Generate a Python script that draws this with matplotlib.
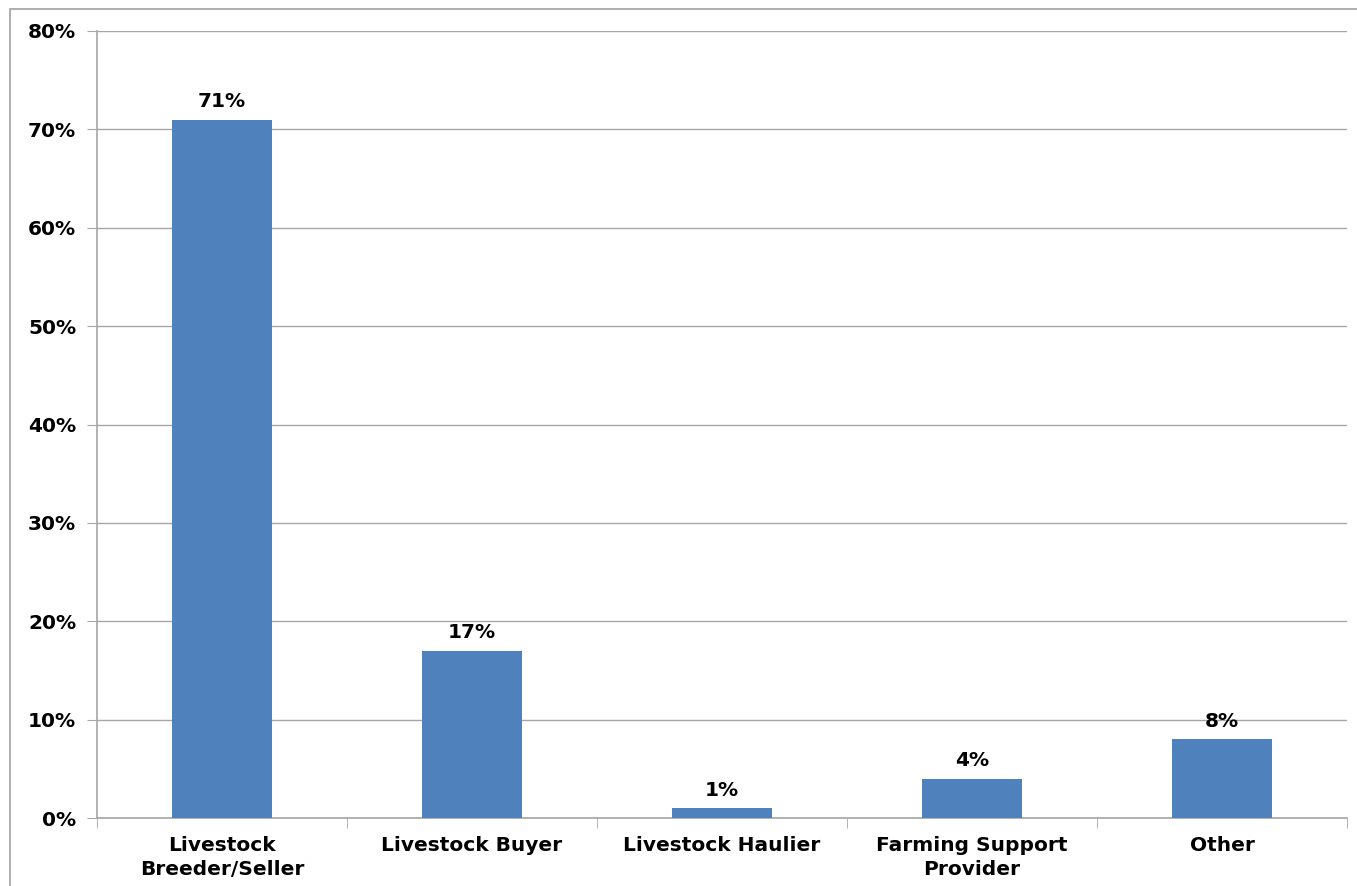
import matplotlib
matplotlib.use("Agg")
import matplotlib.pyplot as plt
import matplotlib.patches as patches
from matplotlib.ticker import FuncFormatter, MultipleLocator

# --- données ---
categories = ["Livestock\nBreeder/Seller", "Livestock Buyer", "Livestock Haulier",
              "Farming Support\nProvider", "Other"]
values = [71, 17, 1, 4, 8]

bar_color = "#4F81BD"
grid_color = "#A6A6A6"
fs = 14.5

plt.rcParams["font.family"] = ["Verdana", "DejaVu Sans"]
plt.rcParams["font.weight"] = "bold"

fig = plt.figure(figsize=(13.57, 8.86), dpi=100)
ax = fig.add_axes([97 / 1357, 68 / 886, 1250 / 1357, 787 / 886])

x = list(range(len(categories)))
ax.bar(x, values, width=0.4, color=bar_color, zorder=3)

for xi, v in zip(x, values):
    ax.annotate(f"{v}%", (xi, v), xytext=(0, 6), textcoords="offset points",
                ha="center", va="bottom", fontsize=fs, fontweight="bold", zorder=4)

ax.set_xlim(-0.5, len(categories) - 0.5)
ax.set_ylim(0, 80)
ax.yaxis.set_major_locator(MultipleLocator(10))
ax.yaxis.set_major_formatter(FuncFormatter(lambda v, p: f"{v:.0f}%"))
ax.grid(axis="y", color=grid_color, lw=1, zorder=0)

ax.set_xticks(x)
ax.set_xticklabels(categories, fontsize=fs, fontweight="bold", linespacing=1.3)
ax.tick_params(axis="x", length=0, pad=13)
ax.set_xticks([i + 0.5 for i in range(-1, len(categories))], minor=True)
ax.tick_params(axis="x", which="minor", length=7, color=grid_color, direction="out")
ax.tick_params(axis="y", length=7, color=grid_color, labelsize=fs, pad=8)
for lab in ax.get_yticklabels():
    lab.set_fontweight("bold")

for s in ["top", "right"]:
    ax.spines[s].set_visible(False)
for s in ["left", "bottom"]:
    ax.spines[s].set_color(grid_color)
    ax.spines[s].set_linewidth(1.2)

# cadre extérieur (coupé à droite et en bas)
frame = patches.Rectangle((10 / 1357, -0.1), 2, (886 - 9) / 886 + 0.1,
                          transform=fig.transFigure, fill=False,
                          edgecolor="#A0A0A0", lw=1.2)
fig.patches.append(frame)

fig.savefig("out.png", dpi=100)
